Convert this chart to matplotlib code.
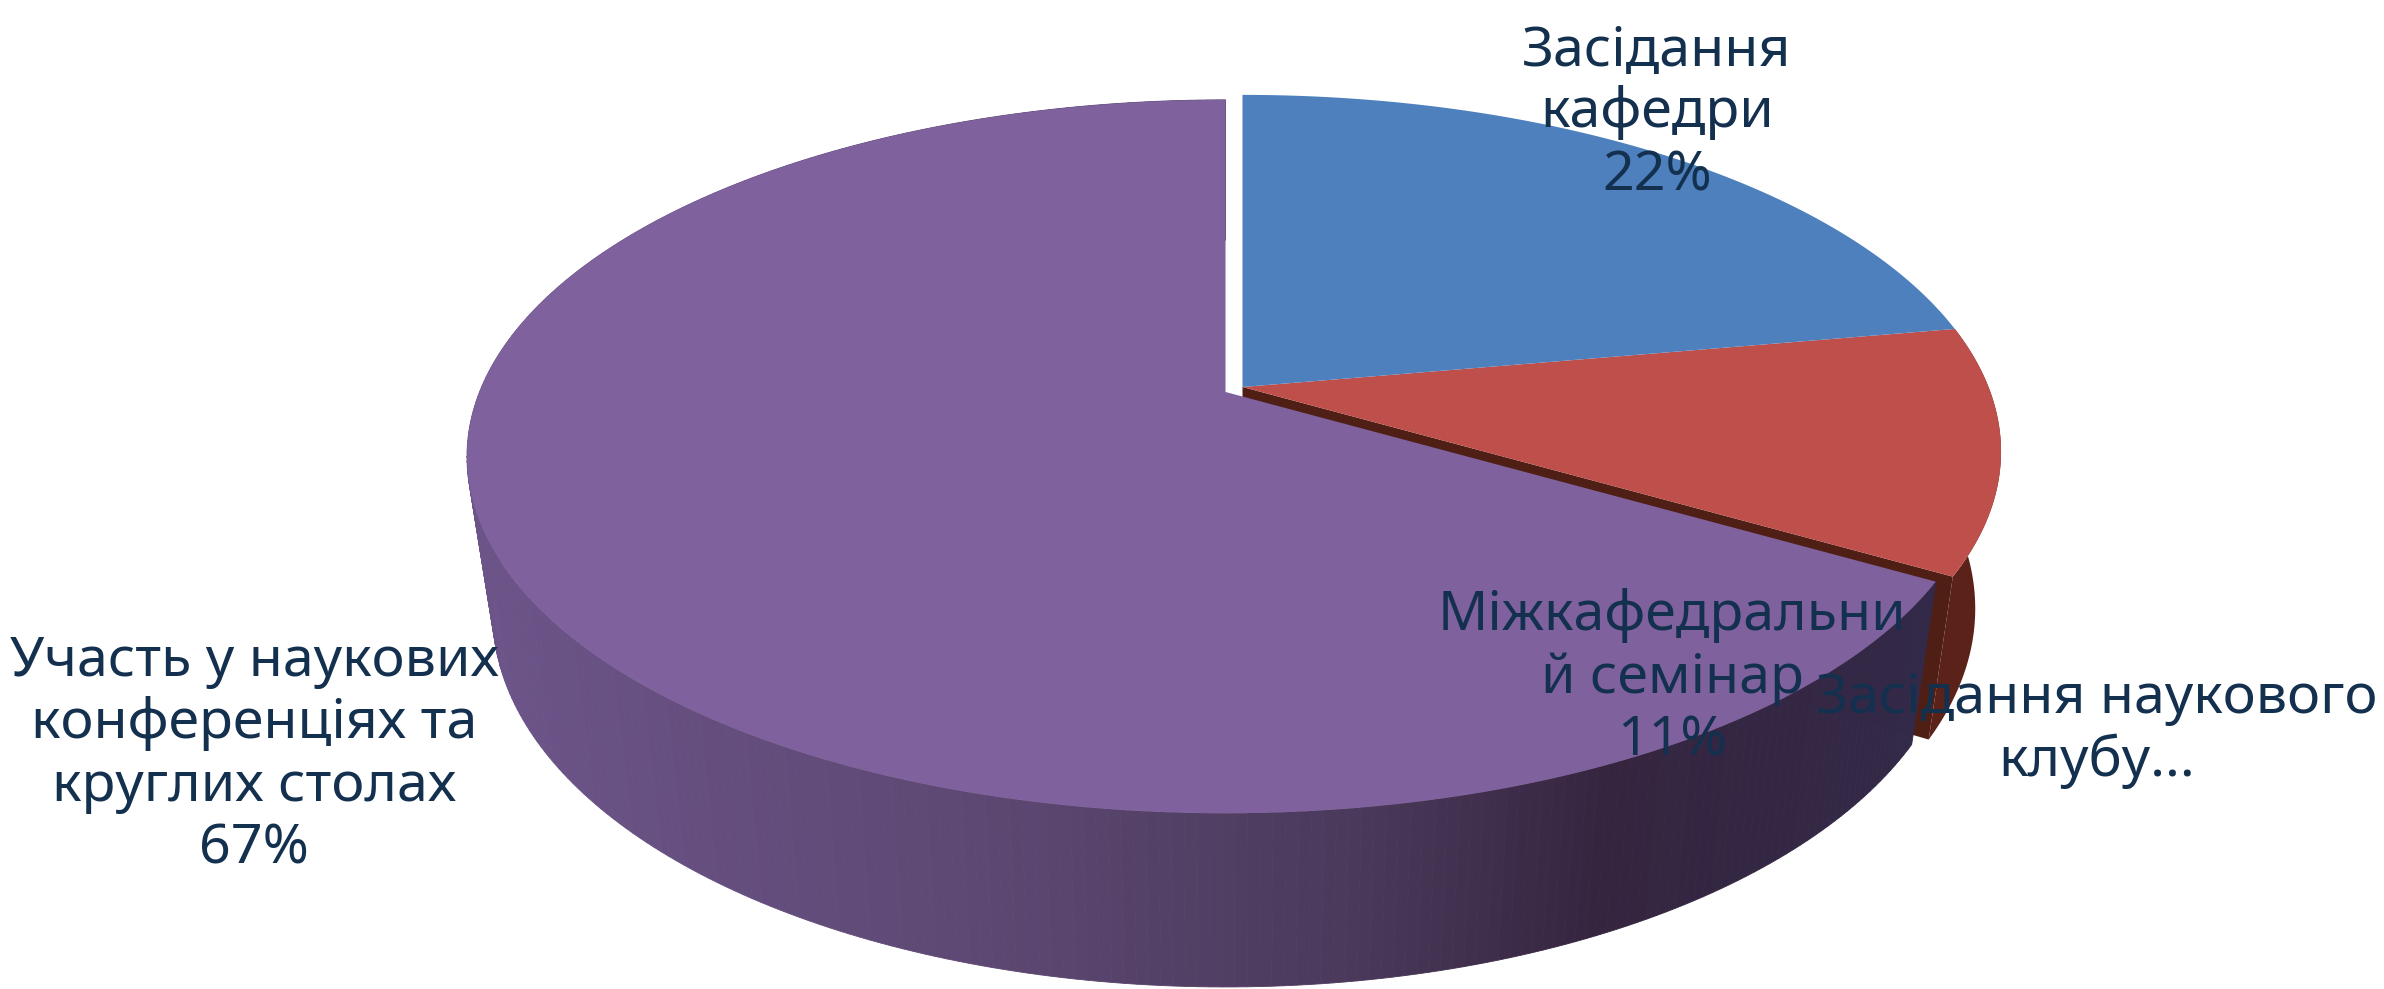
import matplotlib
matplotlib.use("Agg")
import matplotlib.pyplot as plt
import matplotlib.colors as mcolors
import numpy as np

plt.rcParams['font.family'] = ['Noto Sans', 'DejaVu Sans']

names = ["Засідання\nкафедри", "Міжкафедральни\nй семінар",
         "Участь у наукових\nконференціях та\nкруглих столах"]
values = [2, 1, 6]
colors = ['#4e80bd', '#be4f4b', '#7f619e']
side_color_red = '#5a2218'
club_label = "Засідання наукового\nклубу..."

# label centres in picture pixels
label_xy = [(1657, 113), (1672, 678), (254, 755)]
club_xy = (2097, 730)

# how the pie is tilted, measured on the picture
pie_center = {'blue': (1242.5, 387), 'red': (1242.5, 387), 'purple': (1225.5, 392)}
A = 746.0
H = 345.0
K = 0.181
SHRINK = 0.966
DEPTH = 154.0

side_stops = [(0.0, '#6c5489'), (0.35, '#5d4873'), (0.6, '#4b3a5c'),
              (0.78, '#35253f'), (1.0, '#332948')]


def top_xy(ang, cx, cy):
    # ang in degrees, clockwise from 12 o'clock
    t = np.radians(ang)
    u, v = np.sin(t), np.cos(t)
    d = 1 + K * v
    return cx + A * u / d, cy - H * v / d


def bottom_xy(ang, cx, cy):
    t = np.radians(ang)
    u, v = np.sin(t), np.cos(t)
    d = 1 + K * v
    return cx + SHRINK * A * u / d, cy - SHRINK * H * v / d + DEPTH / d


def wedge_top(a0, a1, cx, cy):
    ang = np.linspace(a0, a1, 200)
    x, y = top_xy(ang, cx, cy)
    return np.r_[cx, x], np.r_[cy, y]


def side_colour(f):
    pos = [s[0] for s in side_stops]
    rgb = np.array([mcolors.to_rgb(s[1]) for s in side_stops])
    return [np.interp(f, pos, rgb[:, i]) for i in range(3)]


fractions = np.array(values) / sum(values)
edges = np.r_[0, np.cumsum(fractions) * 360]

fig = plt.figure(figsize=(23.84, 9.89), dpi=100)
ax = fig.add_axes([0, 0, 1, 1])
ax.set_xlim(0, 2384)
ax.set_ylim(989, 0)
ax.axis('off')

# red slice: outer wall and the cut wall facing the purple slice
cx, cy = pie_center['red']
ang = np.linspace(edges[1], edges[2], 80)
tx, ty = top_xy(ang, cx, cy)
bx, by = bottom_xy(ang, cx, cy)
ax.fill(np.r_[tx, bx[::-1]], np.r_[ty, by[::-1]], color=side_color_red, lw=0)
tx, ty = top_xy(edges[2], cx, cy)
bx, by = bottom_xy(edges[2], cx, cy)
bcx, bcy = cx, cy + DEPTH
ax.fill([cx, tx, bx, bcx], [cy, ty, by, bcy], color='#4f1f15', lw=0)

# purple slice wall, shaded strip by strip
cx, cy = pie_center['purple']
ang = np.linspace(edges[2], 360, 300)
tx, ty = top_xy(ang, cx, cy)
bx, by = bottom_xy(ang, cx, cy)
for i in range(len(ang) - 1):
    f = (tx[i] - tx.min()) / (tx.max() - tx.min())
    c = side_colour(f)
    ax.fill([tx[i], tx[i + 1], bx[i + 1], bx[i]], [ty[i], ty[i + 1], by[i + 1], by[i]],
            facecolor=c, edgecolor=c, lw=0.6)

# top faces
for i, key in [(2, 'purple'), (1, 'red'), (0, 'blue')]:
    cx, cy = pie_center[key]
    x, y = wedge_top(edges[i], edges[i + 1], cx, cy)
    ax.fill(x, y, color=colors[i], lw=0)

for i in range(3):
    txt = "%s\n%d%%" % (names[i], round(fractions[i] * 100))
    ax.text(label_xy[i][0], label_xy[i][1], txt, ha='center', va='center',
            fontsize=40, color='#14304f', linespacing=1.18)
ax.text(club_xy[0], club_xy[1], club_label, ha='center', va='center',
        fontsize=40, color='#14304f', linespacing=1.18)

fig.savefig("out.png", dpi=100)
